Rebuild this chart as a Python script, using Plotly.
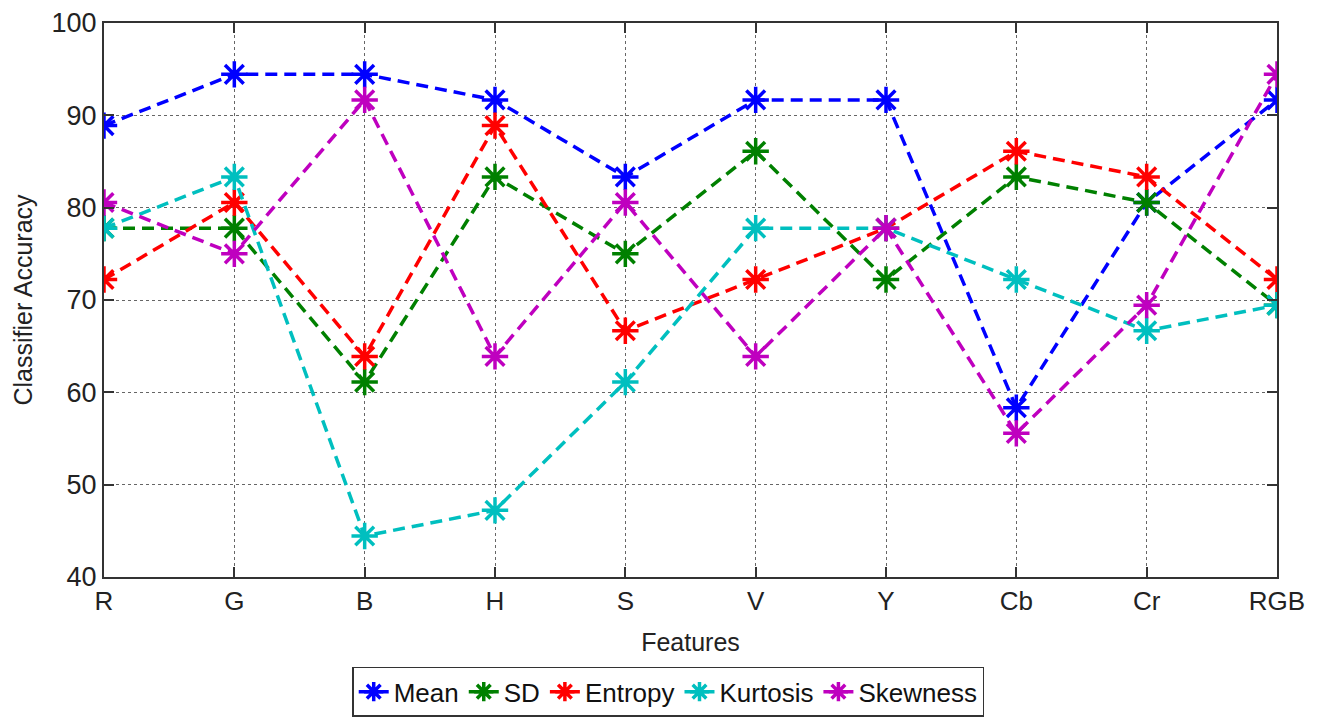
import plotly.graph_objects as go

features = ["R", "G", "B", "H", "S", "V", "Y", "Cb", "Cr", "RGB"]

mean_acc = [88.89, 94.44, 94.44, 91.67, 83.33, 91.67, 91.67, 58.33, 80.56, 91.67]
sd_acc = [77.78, 77.78, 61.11, 83.33, 75.00, 86.11, 72.22, 83.33, 80.56, 69.44]
entropy_acc = [72.22, 80.56, 63.89, 88.89, 66.67, 72.22, 77.78, 86.11, 83.33, 72.22]
kurtosis_acc = [77.78, 83.33, 44.44, 47.22, 61.11, 77.78, 77.78, 72.22, 66.67, 69.44]
skewness_acc = [80.56, 75.00, 91.67, 63.89, 80.56, 63.89, 77.78, 55.56, 69.44, 94.44]

y_ticks = [40, 50, 60, 70, 80, 90, 100]

series = [
    ("Mean", mean_acc, "#0000FF"),
    ("SD", sd_acc, "#008000"),
    ("Entropy", entropy_acc, "#FF0000"),
    ("Kurtosis", kurtosis_acc, "#00BFBF"),
    ("Skewness", skewness_acc, "#BF00BF"),
]

fig = go.Figure()
for name, vals, color in series:
    fig.add_trace(go.Scatter(
        x=features, y=vals, name=name, mode="lines+markers",
        line=dict(color=color, width=3.5, dash="12px,7px"),
        marker=dict(symbol="asterisk-open", size=22, color=color,
                    line=dict(color=color, width=3.5)),
    ))

font_family = "Liberation Sans, Arial, sans-serif"

fig.update_layout(
    width=1324, height=718,
    margin=dict(l=104, r=47, t=23, b=141, autoexpand=False),
    paper_bgcolor="white", plot_bgcolor="white",
    font=dict(family=font_family, size=26, color="#222222"),
    showlegend=True,
    legend=dict(
        orientation="h", x=0.481, xanchor="center", y=-0.162, yanchor="top",
        bordercolor="#333333", borderwidth=1.5, bgcolor="white",
        font=dict(size=26, color="#111111"),
        itemwidth=30, tracegroupgap=0,
    ),
)

fig.update_xaxes(
    type="category", range=[0, 9], automargin=False,
    showline=True, linecolor="#333333", linewidth=2, mirror="ticks",
    ticks="inside", ticklen=10, tickwidth=1.5, tickcolor="#333333",
    showgrid=True, gridcolor="#666666", griddash="dot", gridwidth=1,
    tickfont=dict(size=26),
    title=dict(text="Features", font=dict(size=25), standoff=18),
    zeroline=False,
)
fig.update_yaxes(
    range=[40, 100], tickvals=y_ticks, automargin=False,
    showline=True, linecolor="#333333", linewidth=2, mirror="ticks",
    ticks="inside", ticklen=10, tickwidth=1.5, tickcolor="#333333",
    showgrid=True, gridcolor="#666666", griddash="dot", gridwidth=1,
    tickfont=dict(size=27),
    title=dict(text="Classifier Accuracy", font=dict(size=25), standoff=12),
    zeroline=False,
)

fig.write_html("out.html")
